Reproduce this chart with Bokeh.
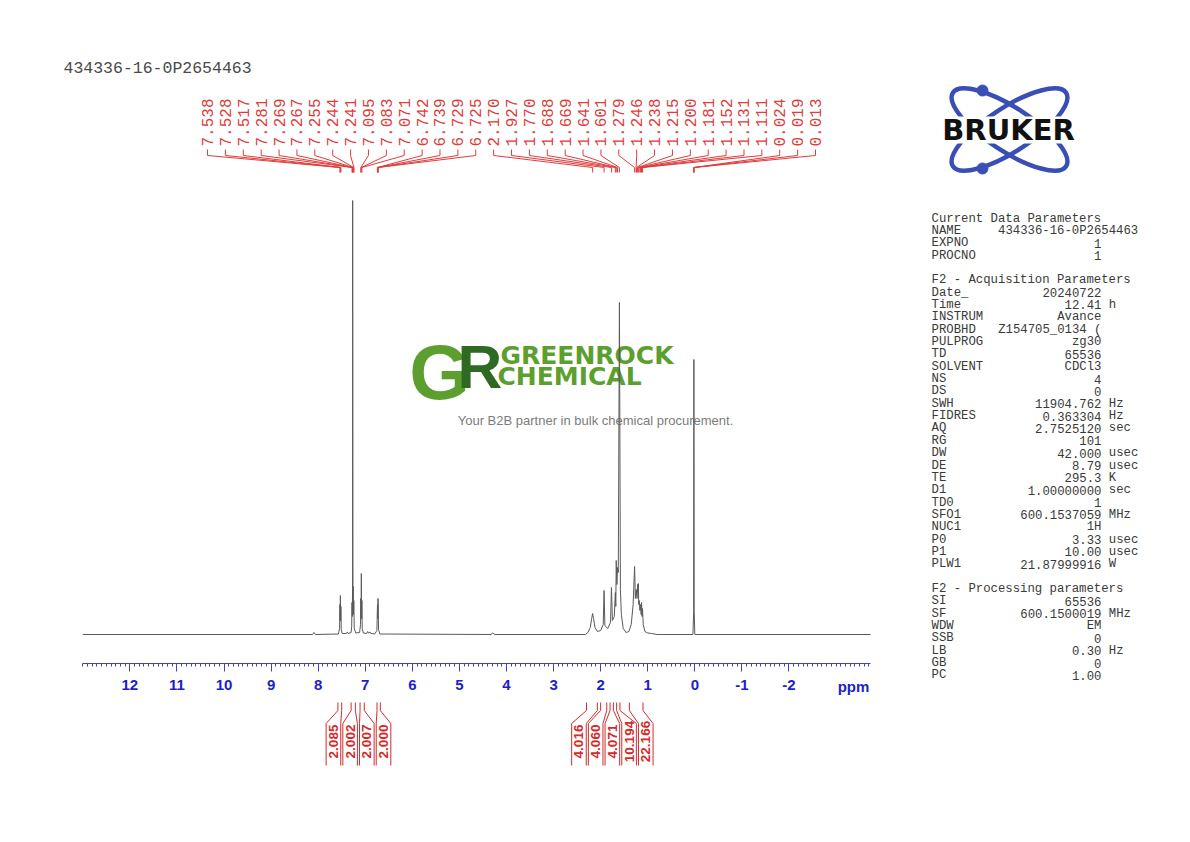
import numpy as np
from bokeh.plotting import figure
from bokeh.models import Range1d, LinearAxis, FixedTicker
from bokeh.core.properties import value
from bokeh.embed import file_html
from bokeh.resources import INLINE

# ---------------- data ----------------
title_text = "434336-16-0P2654463"

spec_ppm = [
    13.00, 8.12, 8.09, 8.06, 7.57, 7.545, 7.538, 7.533, 7.528, 7.522,
    7.517, 7.51, 7.49, 7.40, 7.38, 7.36, 7.30, 7.288, 7.281, 7.275,
    7.269, 7.267, 7.261, 7.255, 7.249, 7.244, 7.241, 7.234, 7.20, 7.12,
    7.10, 7.095, 7.089, 7.083, 7.077, 7.071, 7.064, 7.04, 6.97, 6.95,
    6.93, 6.90, 6.88, 6.80, 6.752, 6.742, 6.739, 6.734, 6.729, 6.725,
    6.718, 6.69, 4.33, 4.29, 4.25, 2.32, 2.27, 2.22, 2.19, 2.17,
    2.15, 2.12, 2.07, 2.00, 1.945, 1.927, 1.91, 1.85, 1.79, 1.770,
    1.75, 1.71, 1.688, 1.678, 1.669, 1.655, 1.641, 1.625, 1.601, 1.58,
    1.56, 1.52, 1.46, 1.40, 1.35, 1.31, 1.279, 1.262, 1.246, 1.242,
    1.238, 1.226, 1.215, 1.207, 1.200, 1.19, 1.181, 1.165, 1.152, 1.14,
    1.131, 1.12, 1.111, 1.095, 1.06, 1.00, 0.92, 0.80, 0.04, 0.024,
    0.019, 0.013, 0.00, -3.73]
spec_int = [
    0, 0, 2, 0, 0.5, 6, 30, 14, 39, 14,
    28, 5, 1, 1, 2.5, 1, 2, 8, 32, 18,
    46, 434, 22, 48, 20, 34, 30, 6, 1.5, 2,
    10, 36, 16, 61, 16, 34, 6, 1.5, 1, 3,
    1.5, 2.5, 1, 0.5, 4, 26, 30, 16, 36, 31,
    5, 0.5, 0, 1.5, 0, 0, 2, 7, 16, 21,
    16, 7, 3, 4, 10, 44, 9, 6, 12, 47,
    14, 18, 42, 28, 74, 50, 67, 62, 332, 45,
    20, 6, 2, 3, 10, 30, 68, 36, 45, 40,
    43, 36, 50, 42, 51, 30, 34, 24, 30, 20,
    32, 18, 26, 10, 3, 1.5, 1, 0, 0, 22,
    275, 24, 0, 0]

peak_labels = [7.538, 7.528, 7.517, 7.281, 7.269, 7.267, 7.255, 7.244, 7.241,
               7.095, 7.083, 7.071, 6.742, 6.739, 6.729, 6.725,
               2.170, 1.927, 1.770, 1.688, 1.669, 1.641, 1.601, 1.279, 1.246,
               1.238, 1.215, 1.200, 1.181, 1.152, 1.131, 1.111, 0.024, 0.019, 0.013]

integral_values = [2.085, 2.002, 2.007, 2.000, 4.016, 4.060, 4.071, 10.194, 22.166]
integral_start = [7.58, 7.30, 7.11, 6.75, 2.30, 2.00, 1.80, 1.66, 1.39]
integral_end = [7.50, 7.21, 7.02, 6.68, 2.07, 1.87, 1.73, 1.59, 1.10]

axis_ticks = [12, 11, 10, 9, 8, 7, 6, 5, 4, 3, 2, 1, 0, -1, -2]
axis_unit = "ppm"

cur_title = "Current Data Parameters"
cur_names = ["NAME", "EXPNO", "PROCNO"]
cur_values = ["434336-16-0P2654463", "1", "1"]

acq_title = "F2 - Acquisition Parameters"
acq_names = ["Date_", "Time", "INSTRUM", "PROBHD", "PULPROG", "TD", "SOLVENT", "NS", "DS",
             "SWH", "FIDRES", "AQ", "RG", "DW", "DE", "TE", "D1", "TD0", "SFO1", "NUC1",
             "P0", "P1", "PLW1"]
acq_values = ["20240722", "12.41", "Avance", "Z154705_0134 (", "zg30", "65536", "CDCl3", "4", "0",
              "11904.762", "0.363304", "2.7525120", "101", "42.000", "8.79", "295.3",
              "1.00000000", "1", "600.1537059", "1H", "3.33", "10.00", "21.87999916"]
acq_units = ["", "h", "", "", "", "", "", "", "",
             "Hz", "Hz", "sec", "", "usec", "usec", "K", "sec", "", "MHz", "",
             "usec", "usec", "W"]

proc_title = "F2 - Processing parameters"
proc_names = ["SI", "SF", "WDW", "SSB", "LB", "GB", "PC"]
proc_values = ["65536", "600.1500019", "EM", "0", "0.30", "0", "1.00"]
proc_units = ["", "MHz", "", "", "Hz", "", ""]

brand_name = "BRUKER"
wm_g, wm_r = "G", "R"
wm_line1, wm_line2 = "GREENROCK", "CHEMICAL"
wm_tagline = "Your B2B partner in bulk chemical procurement."

# ---------------- layout ----------------
W, H = 1174, 826
PX0 = 694.3      # canvas x of 0 ppm
KPX = 47.08      # px per ppm
Y0 = 634         # canvas y of spectrum baseline
RED = "#e03c3c"
RED2 = "#d42a2a"
BLUE = "#1e1ec8"
BLUE_AX = "#4040cc"
MONO = value("Liberation Mono")
SANS = value("Liberation Sans")

p = figure(width=W, height=H,
           x_range=Range1d(PX0 / KPX, (PX0 - W) / KPX),
           y_range=Range1d(Y0 - H, Y0),
           output_backend="svg", toolbar_location=None,
           x_axis_type=None, y_axis_type=None, min_border=0)
p.outline_line_color = None
p.background_fill_color = "white"
p.border_fill_color = "white"
p.extra_x_ranges = {"px": Range1d(0, W)}
p.extra_y_ranges = {"py": Range1d(H, 0)}
PXR = dict(x_range_name="px", y_range_name="py")

# watermark
GREEN = "#5c9f2e"
DKGREEN = "#2f6a22"
p.text(x=[439], y=[371], text=[wm_g], text_font=SANS, text_font_style="bold",
       text_font_size="78px", text_color=GREEN, text_align="center",
       text_baseline="middle", **PXR)
p.text(x=[457], y=[366], text=[wm_r], text_font=SANS, text_font_style="bold",
       text_font_size="62px", text_color=DKGREEN, text_align="left",
       text_baseline="middle", **PXR)
p.text(x=[500, 497], y=[355, 375.5], text=[wm_line1, wm_line2], text_font=value("DejaVu Sans"),
       text_font_style="bold", text_font_size="25px", text_color=GREEN,
       text_align="left", text_baseline="middle", **PXR)
p.text(x=[595], y=[420], text=[wm_tagline], text_font=SANS, text_font_size="13px",
       text_color="#7c7c7c", text_align="center", text_baseline="middle", **PXR)

# spectrum
p.line(spec_ppm, spec_int, line_color="#5a5a5a", line_width=1)

# axis
minor = [round(13.0 - 0.1 * i, 1) for i in range(0, 168)]
ax = LinearAxis(fixed_location=-29,
                ticker=FixedTicker(ticks=axis_ticks, minor_ticks=minor),
                bounds=(spec_ppm[-1], spec_ppm[0]))
ax.axis_line_color = BLUE_AX
ax.major_tick_line_color = BLUE_AX
ax.minor_tick_line_color = BLUE_AX
ax.major_tick_out = 8
ax.major_tick_in = 0
ax.minor_tick_out = 3
ax.minor_tick_in = 0
ax.major_label_standoff = 8
ax.major_label_overrides = {t: str(t) for t in axis_ticks}
ax.major_label_text_font = "Liberation Sans"
ax.major_label_text_font_style = "bold"
ax.major_label_text_font_size = "15px"
ax.major_label_text_color = BLUE
p.add_layout(ax, "below")
p.text(x=[-3.37], y=[686], text=[axis_unit], text_font=SANS, text_font_style="bold",
       text_font_size="15px", text_color=BLUE, text_align="center",
       text_baseline="middle", y_range_name="py")

# peak labels
n = len(peak_labels)
lab_center, lab_step = 3.893, 0.3798
lab_x = [lab_center + lab_step * ((n - 1) / 2 - i) for i in range(n)]
p.text(x=lab_x, y=[146] * n, text=[f"{v:.3f}" for v in peak_labels], angle=np.pi / 2,
       text_align="left", text_baseline="middle", text_font=MONO,
       text_font_size="16px", text_color=RED, y_range_name="py")
p.multi_line(xs=[[lx, lx, pk, pk] for lx, pk in zip(lab_x, peak_labels)],
             ys=[[149, 155, 167, 172]] * n, line_color=RED, line_width=1,
             y_range_name="py")

# integrals
mids = [(s + e) / 2 for s, e in zip(integral_start, integral_end)]
istep = 0.3547
groups = [[i] for i in range(len(mids))]


def gpos(g):
    m = sum(mids[i] for i in g) / len(g)
    k = len(g)
    return [m + istep * ((k - 1) / 2 - j) for j in range(k)]


changed = True
while changed:
    changed = False
    for a in range(len(groups) - 1):
        if gpos(groups[a])[-1] - gpos(groups[a + 1])[0] < istep:
            groups[a] = groups[a] + groups[a + 1]
            del groups[a + 1]
            changed = True
            break
box_x = []
for g in groups:
    box_x += gpos(g)
hw = 0.155
ixs, iys = [], []
for s, e, bx in zip(integral_start, integral_end, box_x):
    ixs += [[s, s, bx + hw, bx + hw], [e, e, bx - hw, bx - hw]]
    iys += [[702, 710, 723, 765], [702, 710, 723, 765]]
p.multi_line(xs=ixs, ys=iys, line_color=RED2, line_width=1, y_range_name="py")
p.text(x=box_x, y=[741] * len(box_x), text=[f"{v:.3f}" for v in integral_values],
       angle=np.pi / 2, text_align="center", text_baseline="middle",
       text_font=SANS, text_font_style="bold", text_font_size="13.5px",
       text_color=RED2, y_range_name="py")

# title
p.text(x=[63], y=[68], text=[title_text], text_font=MONO, text_font_size="16.5px",
       text_color="#4a4a4a", text_align="left", text_baseline="middle", **PXR)

# parameter panel
CW = 7.39
PL = 931
VAL_R = PL + 23 * CW
LH = 12.35
YT = 218
PCOL = "#3a3a3a"
rows_k, names, vals, units = [], [], [], []
titles_k = [0, 5, 30]
for k, (nm, vl) in enumerate(zip(cur_names[1:], cur_values[1:]), start=2):
    rows_k.append(k); names.append(nm); vals.append(vl); units.append("")
for k, (nm, vl, un) in enumerate(zip(acq_names, acq_values, acq_units), start=6):
    rows_k.append(k); names.append(nm); vals.append(vl); units.append(un)
for k, (nm, vl, un) in enumerate(zip(proc_names, proc_values, proc_units), start=31):
    rows_k.append(k); names.append(nm); vals.append(vl); units.append(un)

common = dict(text_font=MONO, text_font_size="12.3px", text_color=PCOL,
              text_baseline="middle", **PXR)
p.text(x=[PL] * 3, y=[YT + LH * k for k in titles_k], text=[cur_title, acq_title, proc_title],
       text_align="left", **common)
p.text(x=[PL, PL + 9 * CW], y=[YT + LH, YT + LH], text=[cur_names[0], cur_values[0]],
       text_align="left", **common)
p.text(x=[PL] * len(names), y=[YT + LH * k for k in rows_k], text=names,
       text_align="left", **common)
p.text(x=[VAL_R] * len(vals), y=[YT + LH * k for k in rows_k], text=vals,
       text_align="right", **common)
p.text(x=[VAL_R + CW] * len(units), y=[YT + LH * k for k in rows_k], text=units,
       text_align="left", **common)

# Bruker logo
LOGO_BLUE = "#3a4fb6"
p.ellipse(x=[1009, 1009], y=[129, 129], width=[135, 135], height=[44, 44],
          angle=[0.576, -0.576], width_units="screen", height_units="screen",
          fill_color=None, line_color=LOGO_BLUE, line_width=4.5, **PXR)
p.scatter(x=[982, 982], y=[90, 168], size=11, marker="circle",
          fill_color=LOGO_BLUE, line_color=LOGO_BLUE, **PXR)
p.quad(left=[922], right=[1094], top=[116], bottom=[143], fill_color="white",
       line_color=None, **PXR)
p.text(x=[1008], y=[129.5], text=[brand_name], text_font=value("DejaVu Sans"),
       text_font_style="bold", text_font_size="29px", text_color="#111111",
       text_align="center", text_baseline="middle", **PXR)

open("out.html", "w").write(file_html(p, INLINE))
